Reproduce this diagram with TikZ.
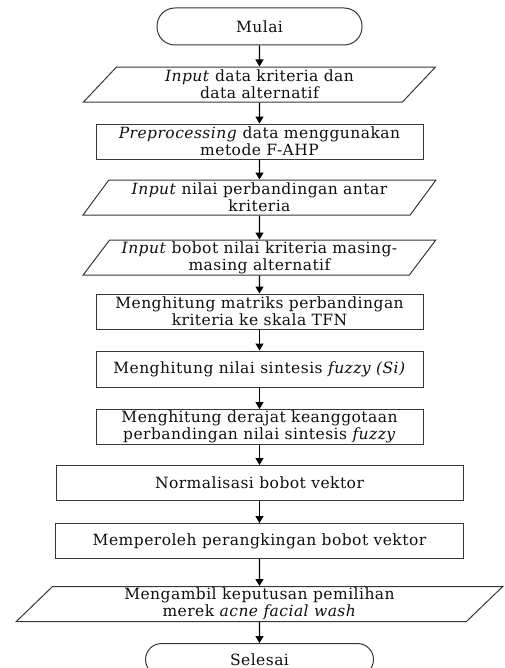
\documentclass[tikz,border=0pt]{standalone}
\usepackage{fontspec}
\setmainfont{DejaVu Serif}[LetterSpace=3]
\usepackage{tikz}
\usetikzlibrary{positioning,arrows.meta,shapes.geometric}
\usepackage{xcolor}
\definecolor{LineGray}{RGB}{55,55,55}
\definecolor{DarkText}{RGB}{15,15,15}

\begin{document}
\begin{tikzpicture}[
    term/.style={rectangle, rounded corners=18pt, draw=LineGray, line width=1pt,
        minimum width=205pt, minimum height=37pt, font=\fontsize{15.5}{17}\selectfont,
        text=DarkText},
    io/.style={trapezium, trapezium left angle=53, trapezium right angle=127,
        trapezium stretches=true, draw=LineGray, line width=1pt,
        minimum width=353pt, minimum height=35pt, inner sep=0pt,
        font=\fontsize{15.5}{17}\selectfont, align=center, text=DarkText},
    proc/.style={rectangle, draw=LineGray, line width=1pt,
        minimum width=327pt, minimum height=35pt, inner sep=0pt,
        font=\fontsize{15.5}{17}\selectfont, align=center, text=DarkText},
    arr/.style={-{Triangle[length=7pt, width=8pt]}, line width=1.2pt, black},
]
\useasboundingbox (0,0) rectangle (505pt,-668pt);

\node[term] (mulai) at (259.5pt,-26.5pt) {Mulai};
\node[io, below=21pt of mulai] (in1) {\textit{Input} data kriteria dan\\data alternatif};
\node[proc, below=21pt of in1] (pre) {\textit{Preprocessing} data menggunakan\\metode F-AHP};
\node[io, below=20pt of pre] (in2) {\textit{Input} nilai perbandingan antar\\kriteria};
\node[io, below=24pt of in2] (in3) {\textit{Input} bobot nilai kriteria masing-\\masing alternatif};
\node[proc, below=18pt of in3] (matriks) {Menghitung matriks perbandingan\\kriteria ke skala TFN};
\node[proc, below=21pt of matriks, minimum height=36.5pt] (sintesis) {Menghitung nilai sintesis \textit{fuzzy (Si)}};
\node[proc, below=21pt of sintesis] (derajat) {Menghitung derajat keanggotaan\\perbandingan nilai sintesis \textit{fuzzy}};
\node[proc, below=20pt of derajat, minimum width=407pt] (normal) {Normalisasi bobot vektor};
\node[proc, below=22pt of normal, minimum width=408pt] (peringkat) {Memperoleh perangkingan bobot vektor};
\node[io, below=27pt of peringkat, minimum width=487pt, trapezium left angle=53.5,
    trapezium right angle=126.5] (ambil) {Mengambil keputusan pemilihan\\merek \textit{acne facial wash}};
\node[term, below=21pt of ambil, minimum width=228pt, minimum height=32pt, rounded corners=16pt] (selesai) {Selesai};

\draw[arr] (mulai) -- (in1);
\draw[arr] (in1) -- (pre);
\draw[arr] (pre) -- (in2);
\draw[arr] (in2) -- (in3);
\draw[arr] (in3) -- (matriks);
\draw[arr] (matriks) -- (sintesis);
\draw[arr] (sintesis) -- (derajat);
\draw[arr] (derajat) -- (normal);
\draw[arr] (normal) -- (peringkat);
\draw[arr] (peringkat) -- (ambil);
\draw[arr] (ambil) -- (selesai);
\end{tikzpicture}
\end{document}
